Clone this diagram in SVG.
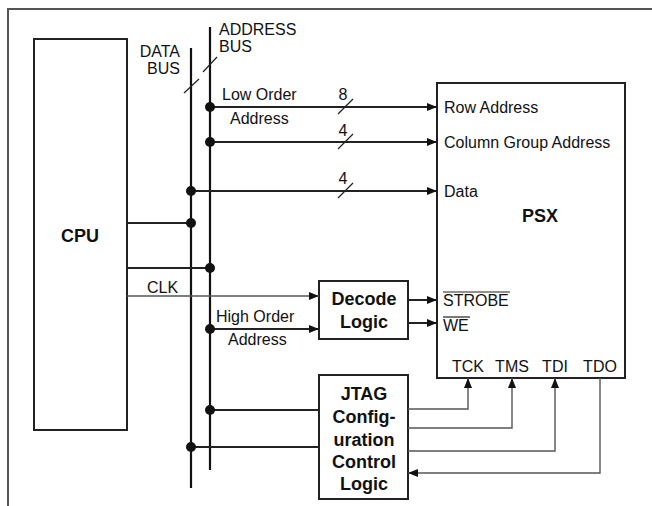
<svg xmlns="http://www.w3.org/2000/svg" width="652" height="506" viewBox="0 0 652 506">
<defs>
<style>
text{font-family:"Liberation Sans",Arial,sans-serif;font-size:16px;fill:#111}
.b{font-weight:bold;font-size:18px}
.m{text-anchor:middle}
.e{text-anchor:end}
.box{fill:#fff;stroke:#222;stroke-width:2}
.bus{stroke:#111;stroke-width:2.2;fill:none}
.w{stroke:#222;stroke-width:2;fill:none}
.t{stroke:#555;stroke-width:1.4;fill:none}
.s{stroke:#222;stroke-width:1.2;fill:none}
.dot{fill:#111}
</style>
<marker id="ah" viewBox="0 0 10 8" refX="10" refY="4" markerWidth="10" markerHeight="8" markerUnits="userSpaceOnUse" orient="auto">
<path d="M0,0 L10,4 L0,8 Z" fill="#111"/>
</marker>
</defs>
<rect width="652" height="506" fill="#fff"/>
<path d="M8,506 V9 H652" stroke="#555" stroke-width="2" fill="none"/>

<g id="cpu">
<rect class="box" x="34" y="39" width="93" height="391"/>
<text class="b m" x="80" y="242">CPU</text>
</g>
<g id="psx">
<rect class="box" x="437" y="83" width="188" height="295"/>
<text x="444" y="113">Row Address</text>
<text x="444" y="148">Column Group Address</text>
<text x="444" y="197">Data</text>
<text class="b m" x="540" y="222">PSX</text>
<text x="443" y="306">STROBE</text>
<path class="s" d="M443,292 H510"/>
<text x="443" y="331">WE</text>
<path class="s" d="M443,317 H470"/>
<text class="m" x="468" y="372">TCK</text>
<text class="m" x="512" y="372">TMS</text>
<text class="m" x="555" y="372">TDI</text>
<text class="m" x="600" y="372">TDO</text>
</g>
<g id="decode">
<rect class="box" x="319" y="281" width="89" height="58"/>
<text class="b m" x="364" y="305">Decode</text>
<text class="b m" x="364" y="328">Logic</text>
</g>
<g id="jtag">
<rect class="box" x="319" y="375" width="89" height="124"/>
<text class="b m" x="364" y="400">JTAG</text>
<text class="b m" x="364" y="423">Config-</text>
<text class="b m" x="364" y="446">uration</text>
<text class="b m" x="364" y="468">Control</text>
<text class="b m" x="364" y="490">Logic</text>
</g>

<g id="connectors">
<path class="bus" d="M191,48 V488"/>
<path class="bus" d="M210,27 V470"/>
<path class="s" d="M184,93 L199,79"/>
<path class="s" d="M203,72 L217,57"/>
<text class="e" x="180" y="57">DATA</text>
<text class="e" x="180" y="74">BUS</text>
<text x="219" y="35">ADDRESS</text>
<text x="219" y="52">BUS</text>

<path class="w" d="M210,107 H437" marker-end="url(#ah)"/>
<path class="s" d="M338,114 L353,99"/>
<text class="m" x="343" y="100">8</text>
<text x="222" y="100">Low Order</text>
<text x="230" y="124">Address</text>
<path class="w" d="M210,142 H437" marker-end="url(#ah)"/>
<path class="s" d="M338,149 L353,134"/>
<text class="m" x="343" y="136">4</text>
<path class="w" d="M191,191 H437" marker-end="url(#ah)"/>
<path class="s" d="M338,198 L353,183"/>
<text class="m" x="343" y="184">4</text>

<path class="w" d="M127,223 H191"/>
<path class="w" d="M127,268 H210"/>
<path class="t" d="M127,296 H319" marker-end="url(#ah)"/>
<text x="147" y="293">CLK</text>
<path class="w" d="M210,329 H319" marker-end="url(#ah)"/>
<text x="216" y="322">High Order</text>
<text x="228" y="345">Address</text>

<path class="w" d="M408,300 H437" marker-end="url(#ah)"/>
<path class="w" d="M408,323 H437" marker-end="url(#ah)"/>

<path class="w" d="M210,410 H319"/>
<path class="w" d="M191,447 H319"/>

<path class="t" d="M408,409 H468 V378" marker-end="url(#ah)"/>
<path class="t" d="M408,428 H512 V378" marker-end="url(#ah)"/>
<path class="t" d="M408,451 H555 V378" marker-end="url(#ah)"/>
<path class="t" d="M600,378 V473 H408" marker-end="url(#ah)"/>

<circle class="dot" cx="210" cy="107" r="5"/>
<circle class="dot" cx="210" cy="142" r="5"/>
<circle class="dot" cx="191" cy="191" r="5"/>
<circle class="dot" cx="191" cy="223" r="5"/>
<circle class="dot" cx="210" cy="268" r="5"/>
<circle class="dot" cx="210" cy="329" r="5"/>
<circle class="dot" cx="210" cy="410" r="5"/>
<circle class="dot" cx="191" cy="447" r="5"/>
</g>
</svg>
